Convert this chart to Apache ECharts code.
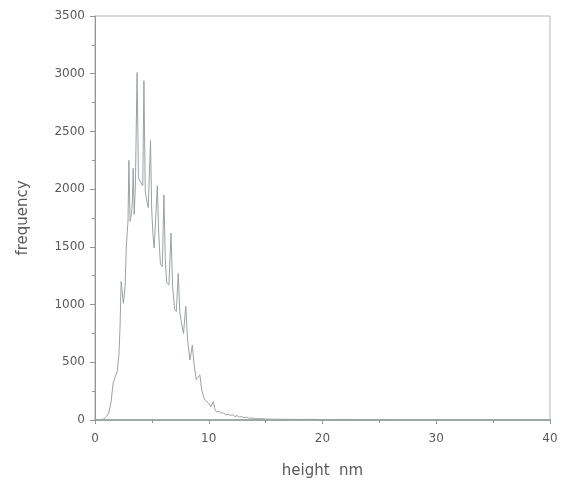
<!DOCTYPE html>
<html>
<head>
<meta charset="utf-8">
<script src="https://cdn.jsdelivr.net/npm/echarts@6/dist/echarts.min.js"></script>
<style>
  html, body { margin: 0; padding: 0; background: #fff; }
  #chart { width: 568px; height: 485px; }
</style>
</head>
<body>
<div id="chart"></div>
<script>
// Height distribution histogram (nm) and counts per bin
const heights = [
  0, 0.5, 0.8, 1.0, 1.2, 1.4, 1.6, 1.8, 1.95, 2.1, 2.2, 2.3, 2.4, 2.5, 2.65, 2.75,
  2.9, 2.98, 3.08, 3.2, 3.28, 3.36, 3.45, 3.55, 3.7, 3.82, 3.95, 4.1, 4.2, 4.3,
  4.42, 4.55, 4.68, 4.88, 4.98, 5.1, 5.2, 5.35, 5.48, 5.6, 5.75, 5.92, 6.06, 6.18,
  6.3, 6.5, 6.68, 6.82, 7.0, 7.15, 7.32, 7.46, 7.62, 7.78, 7.98, 8.14, 8.35, 8.56,
  8.7, 8.9, 9.05, 9.22, 9.38, 9.55, 9.7, 9.85, 9.98, 10.1, 10.2, 10.4, 10.55, 10.7,
  10.9, 11.1, 11.3, 11.5, 11.7, 11.9, 12.1, 12.3, 12.5, 12.7, 12.9, 13.1, 13.3,
  13.5, 13.8, 14.1, 14.5, 15, 16, 17, 18, 19, 20, 22, 24, 26, 28, 30, 32, 35, 38, 40
];
const frequency = [
  0, 2, 10, 30, 60, 150, 320, 380, 420, 560, 800, 1200, 1100, 1010, 1160, 1500,
  1720, 2250, 1720, 1780, 1880, 2180, 1780, 2030, 3010, 2100, 2070, 2060, 2030, 2940,
  1980, 1900, 1840, 2420, 1830, 1600, 1490, 1480, 2030, 1620, 1350, 1330, 1950, 1390,
  1190, 1170, 1620, 1160, 960, 940, 1270, 930, 830, 750, 985, 690, 520, 650,
  490, 350, 370, 390, 260, 200, 170, 185, 145, 150, 115, 160, 90, 70,
  75, 60, 62, 45, 50, 40, 45, 30, 38, 25, 30, 20, 25,
  15, 18, 10, 12, 8, 6, 6, 5, 6, 4, 5, 3, 3, 2, 2, 2, 1, 1, 1
];
const xTicks = [0, 10, 20, 30, 40];
const yTicks = [0, 500, 1000, 1500, 2000, 2500, 3000, 3500];

const axisColor = '#8e9696';
const textColor = '#5a5a5a';
const font = 'DejaVu Sans, sans-serif';

const chart = echarts.init(document.getElementById('chart'), null, { renderer: 'canvas' });
chart.setOption({
  animation: false,
  backgroundColor: '#fff',
  grid: {
    left: 95, right: 18, top: 16, bottom: 65,
    show: true, borderColor: '#b4b8b8', borderWidth: 1
  },
  xAxis: {
    type: 'value',
    min: xTicks[0], max: xTicks[xTicks.length - 1], interval: 10,
    name: 'height  nm', nameLocation: 'middle', nameGap: 44,
    nameTextStyle: { color: textColor, fontSize: 15, fontFamily: font },
    axisLine: { lineStyle: { color: axisColor, width: 1.5 } },
    axisTick: { show: true, length: 4, lineStyle: { color: axisColor } },
    minorTick: { show: true, splitNumber: 2, length: 3, lineStyle: { color: axisColor } },
    axisLabel: { color: textColor, fontSize: 12, fontFamily: font, margin: 13,
                 formatter: v => String(v) },
    splitLine: { show: false }
  },
  yAxis: {
    type: 'value',
    min: yTicks[0], max: yTicks[yTicks.length - 1], interval: 500,
    name: 'frequency', nameLocation: 'middle', nameGap: 64, nameRotate: 90,
    nameTextStyle: { color: textColor, fontSize: 15, fontFamily: font },
    axisLine: { show: true, lineStyle: { color: axisColor, width: 1 } },
    axisTick: { show: true, length: 5, lineStyle: { color: axisColor } },
    minorTick: { show: true, splitNumber: 2, length: 3, lineStyle: { color: axisColor } },
    axisLabel: { color: textColor, fontSize: 12, fontFamily: font, margin: 10,
                 formatter: v => String(v) },
    splitLine: { show: false }
  },
  series: [{
    type: 'line',
    data: heights.map((h, i) => [h, frequency[i]]),
    showSymbol: false,
    lineStyle: { color: '#9ba2a2', width: 1 }
  }]
});
</script>
</body>
</html>
